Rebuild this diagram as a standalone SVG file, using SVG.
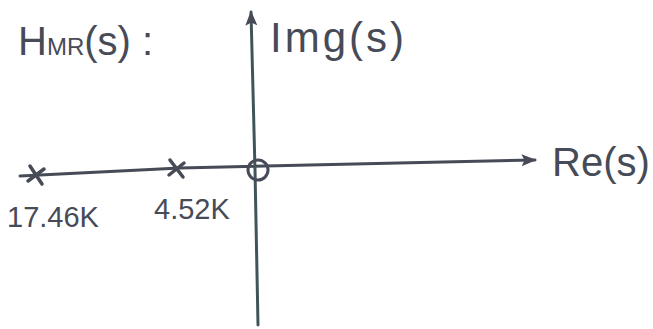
<svg xmlns="http://www.w3.org/2000/svg" width="653" height="329" viewBox="0 0 653 329">
<defs>
<style>
.ln{stroke:#474b57;stroke-width:3;fill:none;stroke-linecap:round;stroke-linejoin:round}
.mk{stroke:#474b57;stroke-width:3.5;fill:none;stroke-linecap:round}
.ax{stroke:#3f5558;stroke-width:3;fill:none;stroke-linecap:round}
.t{font-family:"Liberation Sans",Arial,sans-serif;fill:#474b57}
</style>
<marker id="ah" viewBox="0 0 10 10" refX="9" refY="5" markerWidth="5" markerHeight="5" orient="auto" markerUnits="strokeWidth">
<path d="M0,1 L10,5 L0,9 L2,5 Z" fill="#474b57"/>
</marker>
</defs>
<rect width="653" height="329" fill="#ffffff"/>
<g id="connectors">
<path class="ln" d="M20,176 L180,168 L535,160" marker-end="url(#ah)"/>
<path class="ax" d="M258,325 L255,170 L251,12" marker-end="url(#ah)"/>
</g>
<g id="pole1"><path class="mk" d="M30,166 L42,184 M28,181 L44,169"/></g>
<g id="pole2"><path class="mk" d="M170,160 L183,177 M169,175 L184,163"/></g>
<g id="zero"><circle class="ln" cx="258" cy="170" r="10"/></g>
<g id="title"><text class="t" x="18" y="55" font-size="40">H<tspan font-size="24">MR</tspan>(s) :</text></g>
<g id="img"><text class="t" x="270" y="52" font-size="42" letter-spacing="3">Img(s)</text></g>
<g id="re"><text class="t" x="552" y="176" font-size="40">Re(s)</text></g>
<g id="l1"><text class="t" x="7" y="227" font-size="29">17.46K</text></g>
<g id="l2"><text class="t" x="154" y="219" font-size="29">4.52K</text></g>
</svg>
